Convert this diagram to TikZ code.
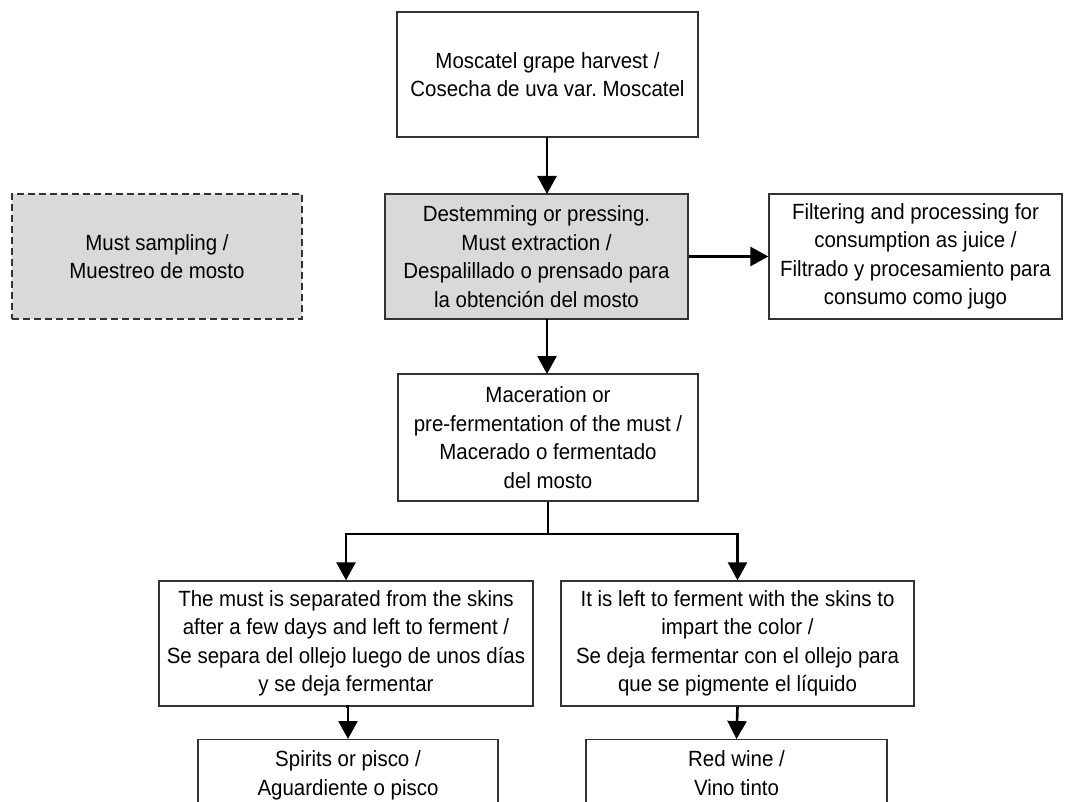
\documentclass[tikz,border=0pt]{standalone}
\usepackage{fontspec}
\setmainfont{Liberation Sans}[FakeStretch=0.93]
\usetikzlibrary{arrows.meta}

\begin{document}
\begin{tikzpicture}[
  x=1pt, y=-1pt,
  every node/.style={font=\fontsize{22}{28.5}\selectfont, align=center, inner sep=0pt},
  stage/.style={draw=black!80, line width=1.3pt, minimum height=125pt},
  sample/.style={stage, fill=black!15},
  sampledash/.style={sample, dash pattern=on 7pt off 4pt},
  arr/.style={line width=2.6pt, -{Triangle[length=18pt, width=19pt]}},
]
\useasboundingbox[fill=white] (0,0) rectangle (1073,802);
\clip (0,0) rectangle (1073,802);
%\draw[gray, help lines, step=50] (0,0) grid (1073,802);
\node[stage, minimum width=301pt] (harvest) at (547.5,74.5)
  {Moscatel grape harvest /\\ Cosecha de uva var.\ Moscatel};
\node[sample, minimum width=303pt] (destem) at (536.5,256.5)
  {Destemming or pressing.\\ Must extraction /\\ Despalillado o prensado para\\ la obtención del mosto};
\node[sampledash, minimum width=290pt] (sampling) at (157,256.5)
  {Must sampling /\\ Muestreo de mosto};
\node[stage, minimum width=293pt] (juice) at (915.5,256.5)
  {Filtering and processing for\\ consumption as juice /\\ Filtrado y procesamiento para\\ consumo como jugo};
\node[stage, minimum width=300pt, minimum height=127pt] (macer) at (548,437.5)
  {Maceration or\\ pre-fermentation of the must /\\ Macerado o fermentado\\ del mosto};
\node[stage, minimum width=374pt] (sep) at (346,643.5)
  {The must is separated from the skins\\ after a few days and left to ferment /\\ Se separa del ollejo luego de unos días\\ y se deja fermentar};
\node[stage, minimum width=353pt] (skins) at (737.5,643.5)
  {It is left to ferment with the skins to\\ impart the color /\\ Se deja fermentar con el ollejo para\\ que se pigmente el líquido};
\node[stage, minimum width=300pt, minimum height=124pt, anchor=north] (spirits) at (348,739)
  {\rule{0pt}{27pt}Spirits or pisco /\\ Aguardiente o pisco\\[60pt]};
\node[stage, minimum width=301pt, minimum height=124pt, anchor=north] (redwine) at (736.5,739)
  {\rule{0pt}{27pt}Red wine /\\ Vino tinto\\[60pt]};
\coordinate (split) at (548,534);

\draw[arr] (547,137) -- (547,194);
\draw[arr] (destem.east) -- (juice.west);
\draw[arr] (547,319) -- (547,374);
\draw[line width=2.6pt] (macer.south) -- (split);
\draw[arr] (split) -| (sep.north);
\draw[arr] (split) -| (skins.north);
\draw[arr] (sep.south) -- (sep.south -| spirits.north) -- (spirits.north);
\draw[arr] (skins.south) -- (redwine.north);
\end{tikzpicture}
\end{document}
